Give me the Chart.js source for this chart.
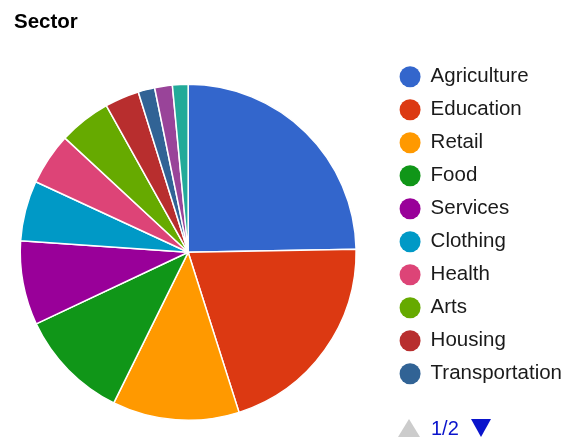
<!DOCTYPE html>
<html>
<head>
<meta charset="utf-8">
<script src="https://cdn.jsdelivr.net/npm/chart.js@4"></script>
<style>
  html, body { margin: 0; padding: 0; background: #fff; }
  #wrap { position: relative; width: 572px; height: 439px; }
  #pager { position: absolute; left: 398px; top: 418px; height: 20px; display: flex; align-items: center;
           font-family: Arial, "Liberation Sans", sans-serif; font-size: 20px; color: #0a14cc; }
  .up { width: 0; height: 0; border-left: 11px solid transparent; border-right: 11px solid transparent; border-bottom: 18px solid #cccccc; }
  .down { width: 0; height: 0; border-left: 10px solid transparent; border-right: 10px solid transparent; border-top: 18px solid #0a14cc; }
  #pager span { margin: 0 12px 0 11px; }
</style>
</head>
<body>
<div id="wrap">
  <canvas id="sector-chart" width="572" height="439"></canvas>
  <div id="pager"><div class="up"></div><span>1/2</span><div class="down"></div></div>
</div>
<script>
const sectors = ["Agriculture", "Education", "Retail", "Food", "Services", "Clothing", "Health", "Arts", "Housing", "Transportation", "Personal Use", "Construction"]
const loans = [247, 204, 122, 107, 81, 58, 50, 50, 33, 16, 17, 15]
const colors = ["#3366cc", "#dc3912", "#ff9900", "#109618", "#990099", "#0099c6", "#dd4477", "#66aa00", "#b82e2e", "#316395", "#994499", "#22aa99"]
const LEGEND_PAGE = 10 // google-style legend only shows page 1

Chart.defaults.font.family = 'Arial, "Liberation Sans", sans-serif'

const ctx = document.getElementById("sector-chart").getContext("2d")

new Chart(ctx, {
  type: "pie",
  data: {
    labels: sectors,
    datasets: [{
      data: loans,
      backgroundColor: colors,
      borderColor: "#ffffff",
      borderWidth: 1.5,
      hoverOffset: 0
    }]
  },
  options: {
    responsive: false,
    animation: false,
    layout: { padding: { left: 14, top: 0, right: 0, bottom: 18 } },
    plugins: {
      title: {
        display: true,
        text: "Sector",
        align: "start",
        color: "#000000",
        font: { size: 20.5, weight: "bold" },
        padding: { top: 10, bottom: 49 }
      },
      // empty box, only there to keep a gap between the pie and the legend
      subtitle: {
        display: true,
        text: " ",
        position: "right",
        weight: 500,
        fullSize: false,
        font: { size: 10 },
        padding: { top: 13, bottom: 0 }
      },
      legend: {
        position: "right",
        align: "start",
        maxWidth: 220,
        title: { display: true, text: " ", font: { size: 10 }, padding: { top: 42, bottom: 0 } },
        labels: {
          usePointStyle: true,
          pointStyle: "circle",
          boxWidth: 20.5,
          boxHeight: 14.85,
          padding: 12.5,
          color: "#1a1a1a",
          font: { size: 20.5 },
          generateLabels: (chart) => {
            const items = Chart.overrides.pie.plugins.legend.labels.generateLabels(chart)
            return items.slice(0, LEGEND_PAGE).map((item) => ({ ...item, lineWidth: 0 }))
          }
        }
      },
      tooltip: { enabled: false }
    }
  }
})
</script>
</body>
</html>
